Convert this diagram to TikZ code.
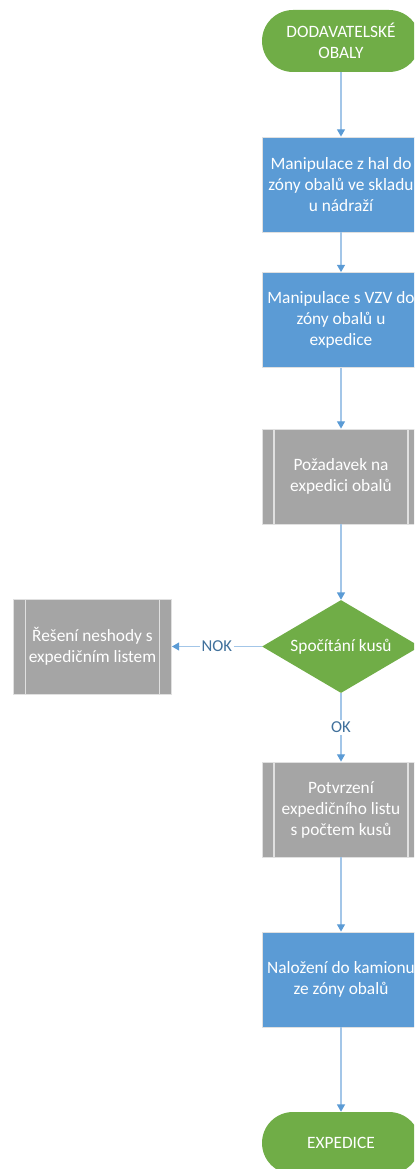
\documentclass[tikz,border=0pt]{standalone}
\usepackage{fontspec}
\setmainfont{Carlito}
\usetikzlibrary{shapes.geometric,arrows.meta}
\definecolor{termgreen}{HTML}{70AD47}
\definecolor{taskblue}{HTML}{5B9BD5}
\definecolor{procgrey}{HTML}{A5A5A5}
\definecolor{flowline}{HTML}{A3C6E8}
\definecolor{flowtip}{HTML}{5B9BD5}
\definecolor{lbltext}{HTML}{41719C}

\begin{document}
\begin{tikzpicture}[x=0.75pt,y=-0.75pt,
		font=\fontsize{13}{15.75}\selectfont,
		term/.style={rectangle, rounded corners=23.25pt, fill=termgreen, text=white, align=center,
			minimum width=118.5pt, minimum height=46.5pt},
		task/.style={rectangle, fill=taskblue, draw=black!12, line width=0.6pt, text=white,
			align=center, minimum width=118.5pt, minimum height=71.25pt},
		proc/.style={task, fill=procgrey,
			path picture={
				\draw[black!12, line width=0.9pt]
					([xshift=9pt]path picture bounding box.north west) -- ([xshift=9pt]path picture bounding box.south west)
					([xshift=-9pt]path picture bounding box.north east) -- ([xshift=-9pt]path picture bounding box.south east);
			}},
		decide/.style={diamond, aspect=1.7, fill=termgreen, text=white, inner sep=0pt,
			minimum width=118.5pt, minimum height=69.75pt},
		flow/.style={draw=flowline, line width=1pt,
			-{Triangle[color=flowtip, width=6pt, length=5.5pt]}},
		lbl/.style={fill=white, text=lbltext, inner sep=1.5pt, font=\fontsize{12.5}{15}\selectfont}
	]
	\path[use as bounding box] (0,0) rectangle (414,1169);
	\clip (0,0) rectangle (414,1169);

	\node[term] (dodavatel) at (341,41) {DODAVATELSKÉ\\OBALY};
	\node[task] (manipHal) at (341,184.5) {Manipulace z hal do\\zóny obalů ve skladu\\u nádraží};
	\node[task] (manipVzv) at (341,320) {Manipulace s VZV do\\zóny obalů u\\expedice};
	\node[proc] (pozadavek) at (341,476.5) {Požadavek na\\expedici obalů};
	\node[decide] (spocitani) at (341,646.5) {Spočítání kusů};
	\node[proc] (reseni) at (92.5,646.5) {Řešení neshody s\\expedičním listem};
	\node[proc] (potvrzeni) at (341,809.5) {Potvrzení\\expedičního listu\\s počtem kusů};
	\node[task] (nalozeni) at (341,979.5) {Naložení do kamionu\\ze zóny obalů};
	\node[term] (expedice) at (341,1143) {EXPEDICE};

	\draw[flow] (dodavatel) -- (manipHal);
	\draw[flow] (manipHal) -- (manipVzv);
	\draw[flow] (manipVzv) -- (pozadavek);
	\draw[flow] (pozadavek) -- (spocitani);
	\draw[flow] (spocitani) -- node[lbl] {NOK} (reseni);
	\draw[flow] (spocitani) -- node[lbl] {OK} (potvrzeni);
	\draw[flow] (potvrzeni) -- (nalozeni);
	\draw[flow] (nalozeni) -- (expedice);
\end{tikzpicture}
\end{document}
